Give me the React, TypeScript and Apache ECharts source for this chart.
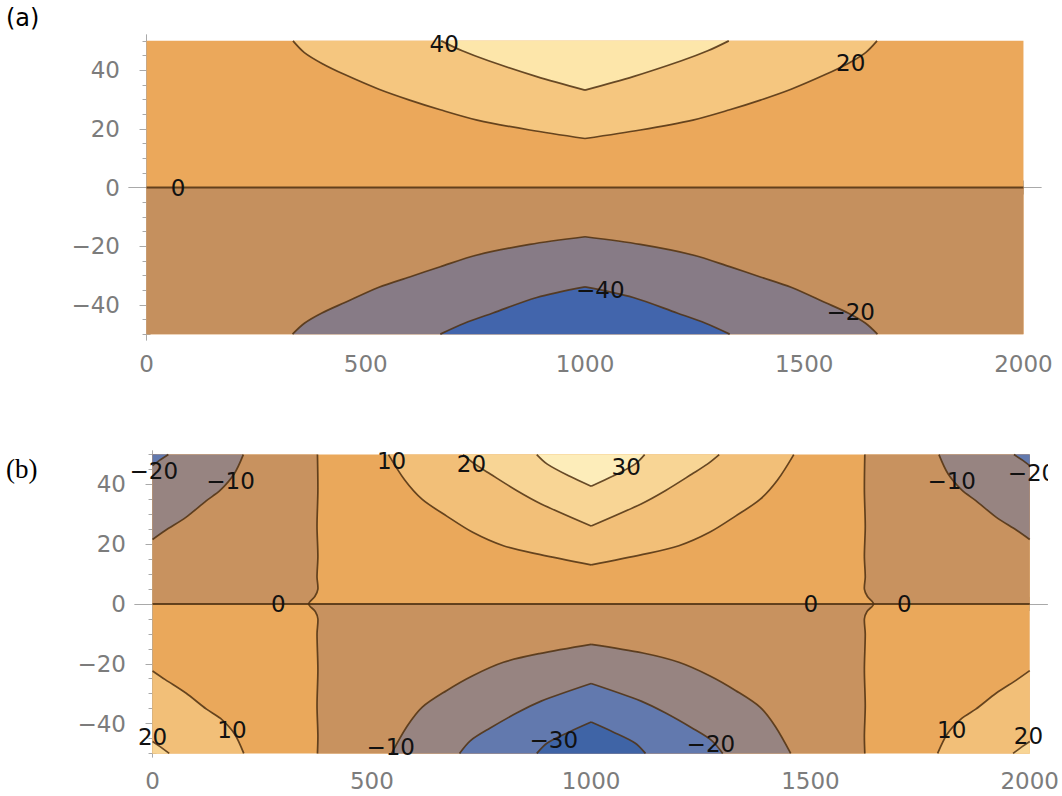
import React, { useEffect, useRef } from "react";
import * as echarts from "echarts";

// ---------- plot bounds ----------
const X0 = 0, X1 = 2000, Y0 = -50, Y1 = 50;

// ---------- ticks ----------
const X_MAJOR = [0, 500, 1000, 1500, 2000];
const X_MINOR = [0, 100, 200, 300, 400, 500, 600, 700, 800, 900, 1000, 1100, 1200, 1300, 1400, 1500, 1600, 1700, 1800, 1900, 2000];
const Y_MAJOR = [-40, -20, 0, 20, 40];
const Y_MINOR = [-50, -45, -40, -35, -30, -25, -20, -15, -10, -5, 0, 5, 10, 15, 20, 25, 30, 35, 40, 45, 50];

// ---------- panel (a) contour lines [x, y] ----------
const A_C40 = [[672, 50], [720, 46.6], [780, 43.2], [890, 37.8], [1000, 33.2], [1110, 37.8], [1220, 43.2], [1280, 46.6], [1328, 50]];
const A_C20 = [[334, 50], [360, 46], [400, 42.3], [452, 38.5], [530, 33.5], [600, 29.8], [670, 26.5], [754, 23], [874, 19.6], [1000, 16.7], [1126, 19.6], [1246, 23], [1330, 26.5], [1400, 29.8], [1470, 33.5], [1548, 38.5], [1600, 42.3], [1640, 46], [1666, 50]];
const A_ZERO = [[0, 0], [2000, 0]];
const A_CM20 = [[333, -50], [360, -46.3], [400, -42.8], [451, -39.3], [530, -34], [600, -30.5], [670, -27], [754, -23], [874, -19.4], [1000, -16.8], [1126, -19.4], [1246, -23], [1330, -27], [1400, -30.5], [1470, -34], [1549, -39.3], [1600, -42.8], [1640, -46.3], [1667, -50]];
const A_CM40 = [[670, -50], [725, -46.3], [790, -42.8], [890, -37.5], [1000, -33.9], [1110, -37.5], [1210, -42.8], [1275, -46.3], [1330, -50]];

// ---------- panel (b) contour lines [x, y] ----------
const B_ZERO = [[0, 0], [2000, 0]];
const B_VL = [[376, 50], [377, 38], [375, 26], [377, 16], [375, 9], [377, 5], [370, 2.5], [356, 0], [371, -2.5], [377, -5], [375, -10], [377, -22], [375, -34], [377, -44], [376, -50]];
const B_VR = [[1624, 50], [1623, 38], [1625, 26], [1623, 16], [1625, 9], [1623, 5], [1630, 2.5], [1644, 0], [1629, -2.5], [1623, -5], [1625, -10], [1623, -22], [1625, -34], [1623, -44], [1624, -50]];
const B_T10 = [[538, 50], [575, 41.5], [615, 35], [670, 29.5], [730, 24], [800, 19.5], [882, 16.6], [1000, 13.1], [1118, 16.6], [1200, 19.5], [1270, 24], [1330, 29.5], [1385, 35], [1425, 41.5], [1462, 50]];
const B_T20 = [[708, 50], [735, 46.8], [770, 43.5], [830, 38], [886, 33.5], [1000, 26.1], [1114, 33.5], [1170, 38], [1230, 43.5], [1265, 46.8], [1292, 50]];
const B_T30 = [[876, 50], [900, 46.8], [950, 42.8], [1000, 39.4], [1050, 42.8], [1100, 46.8], [1122, 50]];
const B_BM10 = [[545, -50], [580, -41], [615, -34.5], [670, -29], [730, -24], [800, -19.5], [882, -16.6], [1000, -13.5], [1118, -16.4], [1200, -19.5], [1270, -24], [1330, -29], [1385, -34.5], [1420, -41], [1455, -50]];
const B_BM20 = [[700, -50], [725, -45.7], [770, -41.5], [830, -36.5], [886, -32.5], [1000, -26.6], [1114, -32.5], [1170, -36.5], [1230, -41.5], [1275, -45.7], [1300, -50]];
const B_BM30 = [[876, -50], [900, -46.5], [950, -42.8], [1000, -39.5], [1050, -42.8], [1100, -46.5], [1124, -50]];
const B_TL_M10 = [[207, 50], [186, 43.5], [154, 38], [123, 34.6], [76, 29], [29, 24.6], [0, 21.6]];
const B_TL_M20 = [[36, 50], [18, 48.3], [0, 46.3]];
const B_TR_M10 = [[1793, 50], [1814, 43.5], [1846, 38], [1877, 34.6], [1924, 29], [1971, 24.6], [2000, 21.6]];
const B_TR_M20 = [[1964, 50], [1982, 48.3], [2000, 46.3]];
const B_BL10 = [[208, -50], [187, -43.5], [155, -38.3], [123, -35.2], [76, -29.8], [29, -25.3], [0, -22.4]];
const B_BL20 = [[0, -46], [18, -47.8], [38, -50]];
const B_BR10 = [[1790, -50], [1812, -43.5], [1845, -38.3], [1877, -35.2], [1924, -29.8], [1971, -25.3], [2000, -22.3]];
const B_BR20 = [[1962, -50], [1982, -47.8], [2000, -46]];

// ---------- contour labels [text, x, y] ----------
const A_LABELS: [string, number, number][] = [
  ["40", 679, 49], ["20", 1606, 42.5], ["0", 72, 0], ["\u221240", 1035, -35], ["\u221220", 1606, -42.4],
];
const B_LABELS: [string, number, number][] = [
  ["\u221220", 3, 44.5], ["\u221210", 178, 41.3], ["10", 545, 48], ["20", 727, 47], ["30", 1080, 46],
  ["\u221210", 1822, 41.3], ["0", 287, 0], ["0", 1501, 0], ["0", 1714, 0],
  ["20", 0, -44.4], ["10", 181, -42.2], ["\u221210", 543, -48], ["\u221230", 915, -45.4],
  ["\u221220", 1273, -47], ["10", 1822, -42.2], ["20", 1997, -44.2],
];
// labels cut by the right edge of the frame
const B_EDGE_LABELS: [string, number, number][] = [["\u221220", 2005, 44]];

// ---------- colours ----------
const A_COL = { pale: "#FDE6AA", light: "#F5C67F", orange: "#EBA85B", brown: "#C5905E", gray: "#877B86", blue: "#4265AC" };
const B_COL = { p30: "#FDEDBA", p20: "#F8D595", p10: "#F2BF78", p0: "#EAA85B", m0: "#C8925F", m10: "#978481", m20: "#6279AE", m30: "#3F64A6" };
const LINE = "rgba(78,48,18,0.85)";
const FRAME = "#a9a9a9";
const TICK_LABEL = "#7c7c7c";
const FONT = "DejaVu Sans";

const top = (l: number[][]) => l.filter((p) => p[1] >= 0);
const bot = (l: number[][]) => l.filter((p) => p[1] <= 0);
const RECT = [[X0, Y0], [X1, Y0], [X1, Y1], [X0, Y1]];

const A_REGIONS = [
  { pts: RECT, color: A_COL.orange },
  { pts: [[X0, 0], [X1, 0], [X1, Y0], [X0, Y0]], color: A_COL.brown },
  { pts: A_C20, color: A_COL.light },
  { pts: A_C40, color: A_COL.pale },
  { pts: A_CM20, color: A_COL.gray },
  { pts: A_CM40, color: A_COL.blue },
];
const A_LINES = [A_C40, A_C20, A_ZERO, A_CM20, A_CM40];

const B_REGIONS = [
  { pts: RECT, color: B_COL.p0 },
  { pts: [[X0, Y1], ...top(B_VL), [X0, 0]], color: B_COL.m0 },
  { pts: [...bot(B_VL), ...bot(B_VR).reverse()], color: B_COL.m0 },
  { pts: [...top(B_VR), [X1, 0], [X1, Y1]], color: B_COL.m0 },
  { pts: [...B_TL_M10, [X0, Y1]], color: B_COL.m10 },
  { pts: [...B_TR_M10, [X1, Y1]], color: B_COL.m10 },
  { pts: B_BM10, color: B_COL.m10 },
  { pts: [...B_TL_M20, [X0, Y1]], color: B_COL.m20 },
  { pts: [...B_TR_M20, [X1, Y1]], color: B_COL.m20 },
  { pts: B_BM20, color: B_COL.m20 },
  { pts: B_BM30, color: B_COL.m30 },
  { pts: B_T10, color: B_COL.p10 },
  { pts: [...B_BL10, [X0, Y0]], color: B_COL.p10 },
  { pts: [...B_BR10, [X1, Y0]], color: B_COL.p10 },
  { pts: B_T20, color: B_COL.p20 },
  { pts: [...B_BL20, [X0, Y0]], color: B_COL.p20 },
  { pts: [...B_BR20, [X1, Y0]], color: B_COL.p20 },
  { pts: B_T30, color: B_COL.p30 },
];
const B_LINES = [B_ZERO, B_VL, B_VR, B_T10, B_T20, B_T30, B_BM10, B_BM20, B_BM30, B_TL_M10, B_TL_M20, B_TR_M10, B_TR_M20, B_BL10, B_BL20, B_BR10, B_BR20];

const fmt = (v: number) => (v < 0 ? "\u2212" + Math.abs(v) : String(v));

// split a contour at its cusp (the interior point at x = 1000) so each branch can be smoothed
function branches(l: number[][]): number[][][] {
  const i = l.findIndex((p, k) => k > 0 && k < l.length - 1 && p[0] === 1000);
  if (i < 0) return [l];
  return [l.slice(0, i + 1), l.slice(i)];
}

function axes(g: number, yr: number) {
  const lineStyle = { color: FRAME, width: 1 };
  const label = { fontSize: 23, fontFamily: FONT, color: TICK_LABEL };
  const xb = { gridIndex: g, type: "value", min: -40, max: 2040, splitLine: { show: false } };
  const yb = { gridIndex: g, type: "value", min: -yr, max: yr, splitLine: { show: false } };
  const xAxis = [
    { ...xb, position: "bottom", axisLine: { show: true, lineStyle }, axisTick: { show: true, inside: true, length: 7, customValues: X_MAJOR, lineStyle }, axisLabel: { show: true, customValues: X_MAJOR, margin: 12, formatter: fmt, ...label } },
    { ...xb, position: "bottom", axisLine: { show: false }, axisTick: { show: true, inside: true, length: 4, customValues: X_MINOR, lineStyle }, axisLabel: { show: false } },
    { ...xb, position: "top", axisLine: { show: true, lineStyle }, axisTick: { show: true, inside: true, length: 7, customValues: X_MAJOR, lineStyle }, axisLabel: { show: false } },
    { ...xb, position: "top", axisLine: { show: false }, axisTick: { show: true, inside: true, length: 4, customValues: X_MINOR, lineStyle }, axisLabel: { show: false } },
  ];
  const yAxis = [
    { ...yb, position: "left", axisLine: { show: true, lineStyle }, axisTick: { show: true, inside: true, length: 7, customValues: Y_MAJOR, lineStyle }, axisLabel: { show: true, customValues: Y_MAJOR, margin: 9, formatter: fmt, ...label } },
    { ...yb, position: "left", axisLine: { show: false }, axisTick: { show: true, inside: true, length: 4, customValues: Y_MINOR, lineStyle }, axisLabel: { show: false } },
    { ...yb, position: "right", axisLine: { show: true, lineStyle }, axisTick: { show: true, inside: true, length: 7, customValues: Y_MAJOR, lineStyle }, axisLabel: { show: false } },
    { ...yb, position: "right", axisLine: { show: false }, axisTick: { show: true, inside: true, length: 4, customValues: Y_MINOR, lineStyle }, axisLabel: { show: false } },
  ];
  return { xAxis, yAxis };
}

function labelSeries(idx: any, labels: [string, number, number][], clip: boolean, z: number) {
  return {
    type: "custom", ...idx, silent: true, z, clip,
    data: labels.map(() => [1000, 0]),
    renderItem: (params: any, api: any) => {
      const [t, x, y] = labels[params.dataIndex];
      const c = api.coord([x, y]);
      return { type: "text", x: c[0], y: c[1], style: { text: t, fill: "#111", fontSize: 23, fontFamily: FONT, align: "center", verticalAlign: "middle" } };
    },
  };
}

function panelSeries(g: number, regions: { pts: number[][]; color: string }[], lines: number[][][], labels: [string, number, number][], edgeLabels: [string, number, number][]) {
  const idx = { xAxisIndex: g * 4, yAxisIndex: g * 4 };
  const segs: { pts: number[][]; w: number }[] = [];
  lines.forEach((l) => {
    const flat = l.every((p) => p[1] === 0);
    branches(l).forEach((b) => segs.push({ pts: b, w: flat ? 2 : 1.7 }));
  });
  return [
    {
      type: "custom", ...idx, silent: true, z: 1,
      data: regions.map(() => [1000, 0]),
      renderItem: (params: any, api: any) => {
        const r = regions[params.dataIndex];
        return { type: "polygon", shape: { points: r.pts.map((p) => api.coord(p)) }, style: { fill: r.color } };
      },
    },
    {
      type: "custom", ...idx, silent: true, z: 2,
      data: segs.map(() => [1000, 0]),
      renderItem: (params: any, api: any) => {
        const s = segs[params.dataIndex];
        return { type: "polyline", shape: { points: s.pts.map((p) => api.coord(p)), smooth: s.pts.length > 3 ? 0.3 : 0 }, style: { stroke: LINE, lineWidth: s.w, fill: null } };
      },
    },
    labelSeries(idx, labels, false, 3),
    labelSeries(idx, edgeLabels, true, 3),
  ];
}

export default function App() {
  const ref = useRef<HTMLDivElement>(null);
  useEffect(() => {
    if (!ref.current) return;
    const chart = echarts.init(ref.current, undefined, { renderer: "svg" });
    const a = axes(0, 52);
    const b = axes(1, 51.2);
    chart.setOption({
      animation: false,
      backgroundColor: "#ffffff",
      grid: [
        { left: 129, top: 35, width: 912, height: 305 },
        { left: 135, top: 451, width: 914, height: 306 },
      ],
      xAxis: [...a.xAxis, ...b.xAxis],
      yAxis: [...a.yAxis, ...b.yAxis],
      graphic: [
        { type: "text", left: 6, top: 6, style: { text: "(a)", fontSize: 24, fontFamily: FONT, fill: "#000" } },
        { type: "text", left: 6, top: 455, style: { text: "(b)", fontSize: 27, fontFamily: "Liberation Serif", fill: "#000" } },
      ],
      series: [
        ...panelSeries(0, A_REGIONS, A_LINES, A_LABELS, []),
        ...panelSeries(1, B_REGIONS, B_LINES, B_LABELS, B_EDGE_LABELS),
      ],
    });
    return () => chart.dispose();
  }, []);
  return <div ref={ref} style={{ position: "absolute", left: 0, top: 0, width: 1062, height: 796, background: "#fff" }} />;
}
